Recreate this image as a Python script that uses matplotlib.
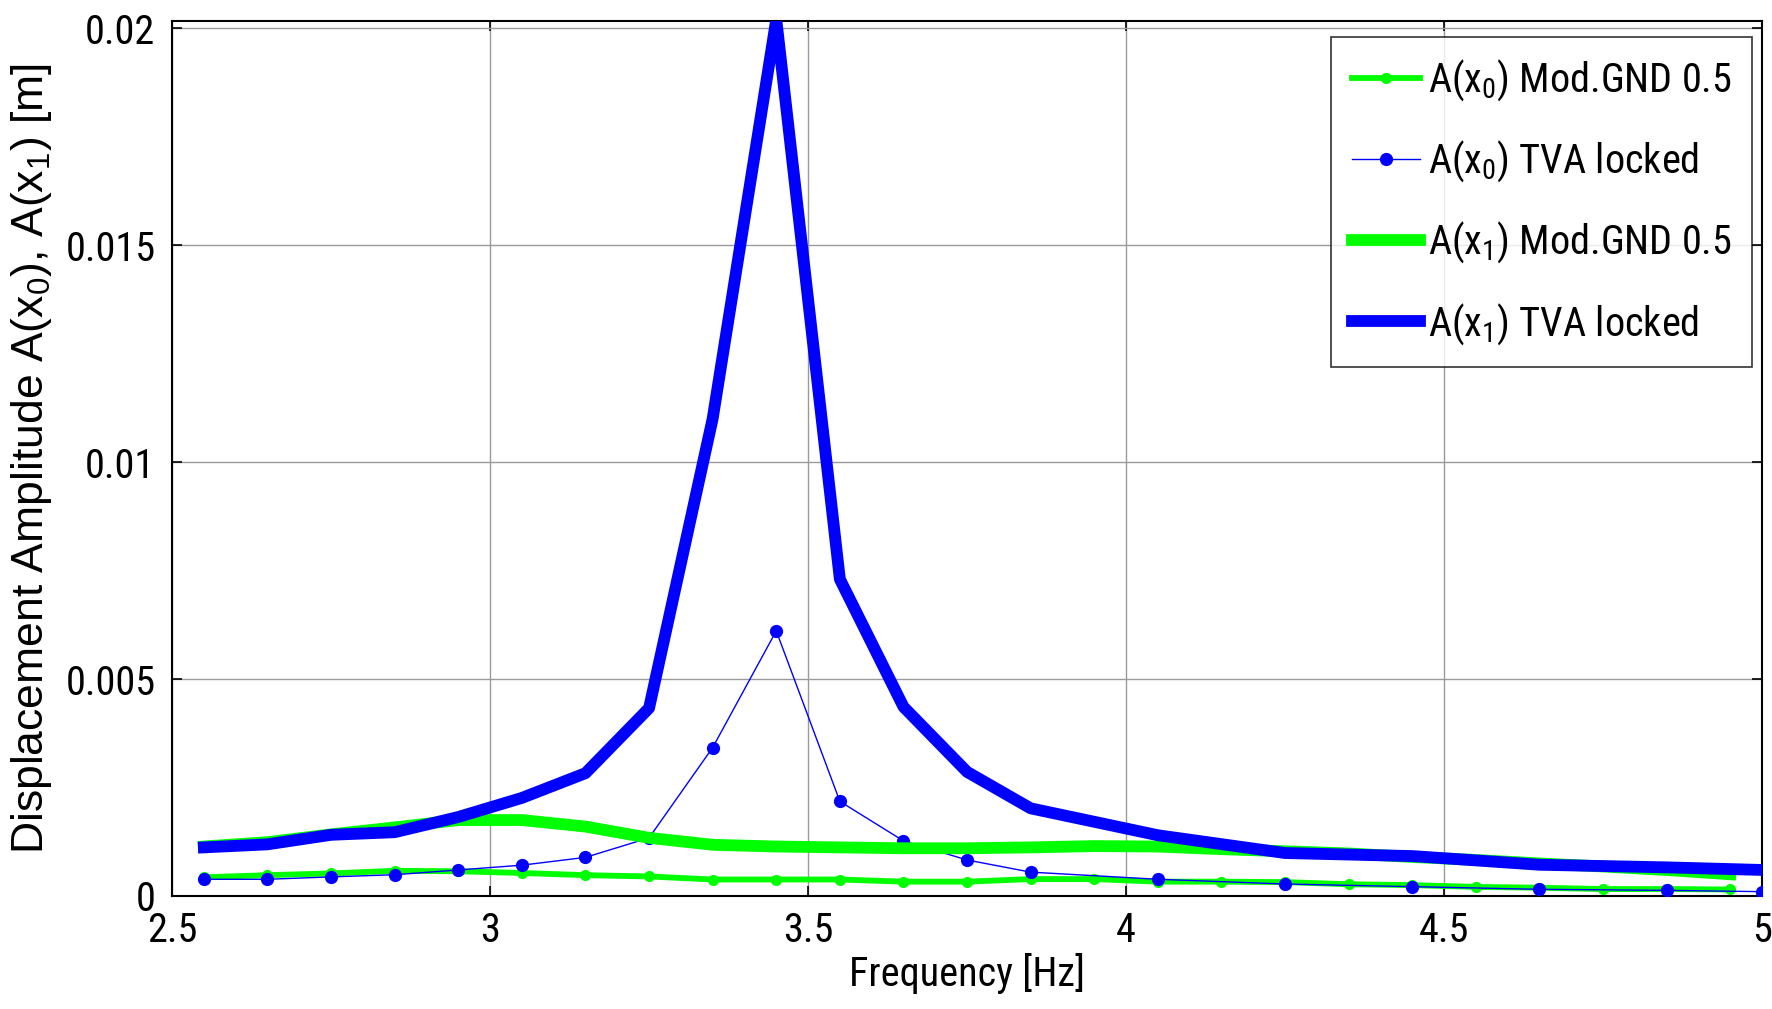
import numpy as np
import matplotlib
matplotlib.use("Agg")
import matplotlib.pyplot as plt
from matplotlib import font_manager as fm

# ---------------- data ----------------
freq_green = [2.55, 2.65, 2.75, 2.85, 2.95, 3.05, 3.15, 3.25, 3.35, 3.45, 3.55, 3.65, 3.75,
              3.85, 3.95, 4.05, 4.15, 4.25, 4.35, 4.45, 4.55, 4.65, 4.75, 4.85, 4.95]
x0_mod = [0.00043, 0.00048, 0.00052, 0.00058, 0.00057, 0.00053, 0.00048, 0.00045, 0.00038,
          0.00038, 0.00038, 0.00033, 0.00033, 0.00039, 0.00039, 0.00033, 0.00033, 0.00032,
          0.00027, 0.00025, 0.00021, 0.00019, 0.00016, 0.00016, 0.00015]
x1_mod = [0.00114, 0.00124, 0.00142, 0.00158, 0.00175, 0.00175, 0.00160, 0.00134, 0.00118,
          0.00114, 0.00112, 0.00110, 0.00110, 0.00112, 0.00115, 0.00114, 0.00108, 0.00103,
          0.00098, 0.00090, 0.00083, 0.00075, 0.00068, 0.00060, 0.00050]

freq_blue = [2.55, 2.65, 2.75, 2.85, 2.95, 3.05, 3.15, 3.25, 3.35, 3.45, 3.55, 3.65, 3.75,
             3.85, 4.05, 4.25, 4.45, 4.65, 4.85, 5.0]
x0_tva = [0.000385, 0.000385, 0.00044, 0.00049, 0.00060, 0.00071, 0.00089, 0.00134, 0.00342,
          0.00611, 0.00218, 0.00127, 0.00083, 0.00055, 0.000385, 0.000276, 0.000215,
          0.000154, 0.00013, 0.00010]
x1_tva = [0.00112, 0.00119, 0.00141, 0.00147, 0.00182, 0.00226, 0.00283, 0.00433, 0.01100,
          0.02020, 0.00730, 0.00436, 0.00286, 0.00202, 0.00140, 0.00099, 0.00092, 0.00072,
          0.00066, 0.00060]

labels = [r"A(x$_0$) Mod.GND 0.5", r"A(x$_0$) TVA locked",
          r"A(x$_1$) Mod.GND 0.5", r"A(x$_1$) TVA locked"]
xticks = [2.5, 3, 3.5, 4, 4.5, 5]
xticklabels = ["2.5", "3", "3.5", "4", "4.5", "5"]
yticks = [0, 0.005, 0.01, 0.015, 0.02]
yticklabels = ["0", "0.005", "0.01", "0.015", "0.02"]


# ---------------- fonts ----------------
def first_installed(cands):
    for c in cands:
        try:
            fm.findfont(fm.FontProperties(family=c), fallback_to_default=False)
            return c
        except Exception:
            continue
    return "DejaVu Sans"


NARROW = first_installed(["Liberation Sans Narrow", "Arial Narrow", "Roboto Condensed",
                          "Archivo Narrow", "PT Sans Narrow", "IBM Plex Sans Condensed"])
WIDE = first_installed(["Liberation Sans", "Arimo", "DejaVu Sans"])

plt.rcParams["font.family"] = [NARROW, "DejaVu Sans"]
plt.rcParams["mathtext.fontset"] = "custom"
plt.rcParams["mathtext.rm"] = NARROW
plt.rcParams["mathtext.it"] = NARROW
plt.rcParams["mathtext.default"] = "regular"

GREEN = (0, 1, 0)
BLUE = (0, 0, 1)
FS = 29

fig = plt.figure(figsize=(17.72, 10.09), dpi=100)
ax = fig.add_axes([0.0971, 0.112, 0.8973, 0.867])

ax.plot(freq_green, x0_mod, color=GREEN, lw=4.2, marker="o", ms=7, label=labels[0], zorder=3)
ax.plot(freq_blue, x0_tva, color=BLUE, lw=1.0, marker="o", ms=8.5, label=labels[1], zorder=4)
ax.plot(freq_green, x1_mod, color=GREEN, lw=8.5, label=labels[2], zorder=5)
ax.plot(freq_blue, x1_tva, color=BLUE, lw=8.5, label=labels[3], zorder=6)

ax.set_xlim(2.5, 5.0)
ax.set_ylim(0, 0.02016)
ax.set_xticks(xticks)
ax.set_xticklabels(xticklabels)
ax.set_yticks(yticks)
ax.set_yticklabels(yticklabels)
ax.grid(True, color="#9a9a9a", lw=1.0)
ax.set_axisbelow(True)
ax.tick_params(axis="both", direction="in", length=7, width=1.2, top=True, right=True,
               labelsize=FS, color="black")
ax.tick_params(axis="x", pad=11)
ax.tick_params(axis="y", pad=12)
for s in ax.spines.values():
    s.set_linewidth(1.5)
    s.set_color("black")

ax.set_xlabel("Frequency [Hz]", fontsize=FS, labelpad=2)
ax.set_ylabel(r"Displacement Amplitude A(x$_0$), A(x$_1$) [m]", fontsize=32,
              family=[WIDE, "DejaVu Sans"], labelpad=8)

leg = ax.legend(loc="upper right", bbox_to_anchor=(0.9937, 0.9817), borderaxespad=0,
                fontsize=FS, frameon=True, fancybox=False, handlelength=1.7,
                handletextpad=0.2, labelspacing=0.88, borderpad=0.5)
leg.get_frame().set_edgecolor("black")
leg.get_frame().set_linewidth(1.2)
leg.set_zorder(10)

fig.savefig("out.png", dpi=100)
